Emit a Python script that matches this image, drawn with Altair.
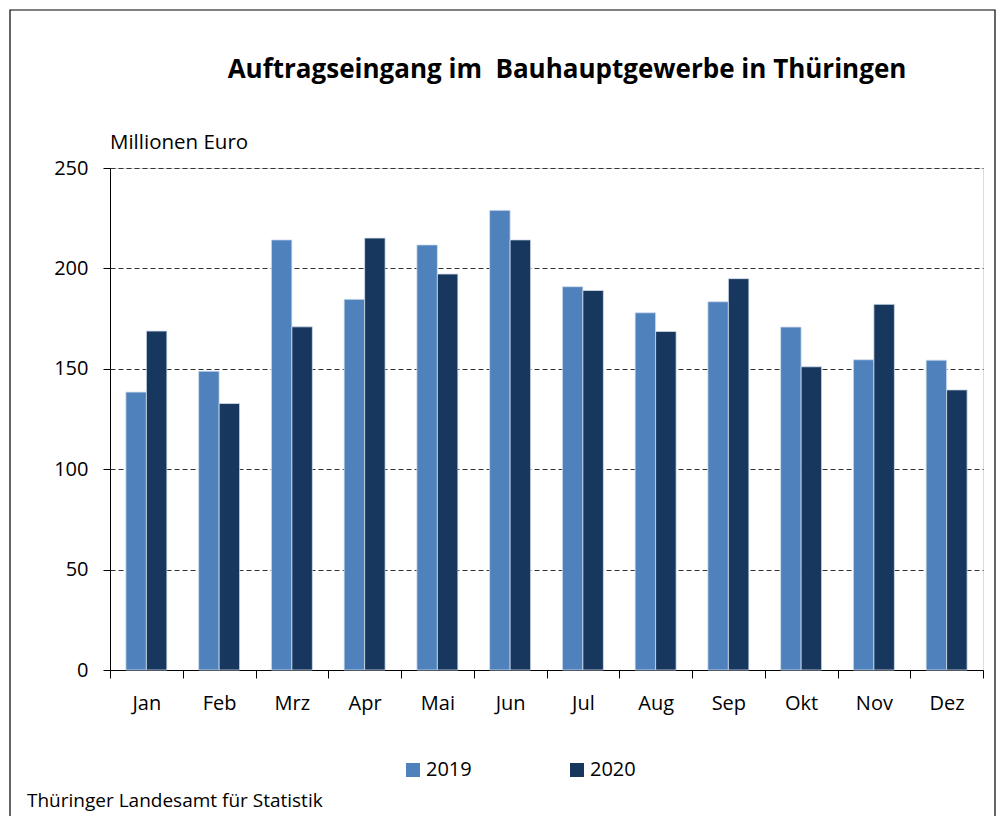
import altair as alt
import pandas as pd

months = ["Jan", "Feb", "Mrz", "Apr", "Mai", "Jun", "Jul", "Aug", "Sep", "Okt", "Nov", "Dez"]
years = ["2019", "2020"]
v2019 = [138.4, 148.8, 214.2, 184.6, 211.7, 228.9, 190.9, 177.9, 183.4, 170.8, 154.5, 154.3]
v2020 = [168.8, 132.7, 170.9, 215.1, 197.2, 214.2, 189.0, 168.6, 194.9, 151.0, 182.1, 139.5]
y_ticks = [0, 50, 100, 150, 200, 250]
colors = ["#4F81BD", "#17375E"]

title_text = "Auftragseingang im\u00a0 Bauhauptgewerbe in Thüringen"
unit_text = "Millionen Euro"
source_text = "Thüringer Landesamt für Statistik"

FONT = "Open Sans"

rows = []
for m, a, b in zip(months, v2019, v2020):
    rows.append({"month": m, "year": "2019", "value": a})
    rows.append({"month": m, "year": "2020", "value": b})
df = pd.DataFrame(rows)

bars = alt.Chart(df).mark_bar(stroke="#d3deee", strokeWidth=0.8).encode(
    x=alt.X("month:N", sort=months,
            scale=alt.Scale(paddingInner=0, paddingOuter=0),
            axis=alt.Axis(title=None, labelAngle=0, grid=False, tickBand="extent",
                          tickSize=8, tickColor="black", domainColor="black",
                          labelPadding=15, labelFontSize=20, labelColor="black",
                          labelFont=FONT)),
    xOffset=alt.XOffset("year:N", sort=years,
                        scale=alt.Scale(paddingOuter=0.775, paddingInner=0)),
    y=alt.Y("value:Q", scale=alt.Scale(domain=[0, 250]),
            axis=alt.Axis(title=None, values=y_ticks, grid=True, gridDash=[5, 3],
                          gridColor="#333333", gridWidth=1.2, domainColor="black",
                          tickColor="black", tickSize=7, labelPadding=15,
                          labelFontSize=20, labelColor="black", labelFont=FONT)),
    color=alt.Color("year:N", sort=years,
                    scale=alt.Scale(domain=years, range=colors),
                    legend=alt.Legend(title=None, orient="none", legendX=293, legendY=592,
                                      direction="horizontal", symbolType="square",
                                      symbolSize=196, symbolStrokeWidth=0,
                                      labelFontSize=20, labelColor="black", labelFont=FONT,
                                      columnPadding=95, padding=0, labelOffset=3)),
)

title = alt.Chart(pd.DataFrame({"t": [title_text]})).mark_text(
    font=FONT, fontSize=26, fontWeight="bold", color="black", align="center",
    baseline="middle").encode(text="t:N", x=alt.value(457), y=alt.value(-98))

unit = alt.Chart(pd.DataFrame({"t": [unit_text]})).mark_text(
    font=FONT, fontSize=20.5, color="black", align="left",
    baseline="middle").encode(text="t:N", x=alt.value(0), y=alt.value(-25))

source = alt.Chart(pd.DataFrame({"t": [source_text]})).mark_text(
    font=FONT, fontSize=19, color="black", align="left",
    baseline="middle").encode(text="t:N", x=alt.value(-83), y=alt.value(633))

frame = alt.Chart(pd.DataFrame({"a": [0]})).mark_rect(
    fill=None, stroke="black", strokeWidth=1.2).encode(
    x=alt.value(-100), x2=alt.value(885), y=alt.value(-158), y2=alt.value(720))

chart = alt.layer(bars, title, unit, source, frame).properties(
    width=873, height=502,
    padding={"left": 102, "top": 160, "right": 13, "bottom": 146},
    autosize=alt.AutoSizeParams(type="none"),
).configure_view(stroke="black", strokeWidth=1).configure(font=FONT)

chart.save("out.html", embed_options={"renderer": "svg", "actions": False})
